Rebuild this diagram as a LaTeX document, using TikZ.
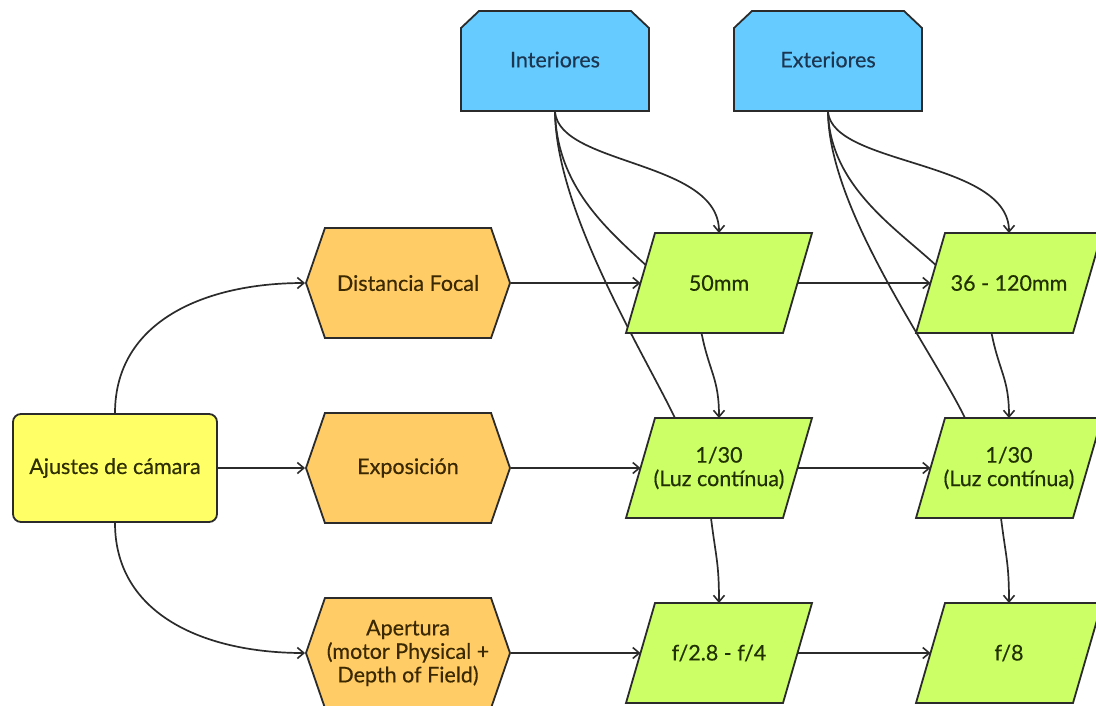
\documentclass[tikz,border=0pt]{standalone}
\usepackage{fontspec}
\setmainfont{Lato}[FakeBold=0.35]
\usetikzlibrary{shapes.geometric,shapes.symbols,arrows.meta,calc}
\definecolor{bluefill}{HTML}{66CCFF}
\definecolor{orangefill}{HTML}{FFCC66}
\definecolor{yellowfill}{HTML}{FFFF66}
\definecolor{greenfill}{HTML}{CCFF66}
\definecolor{linec}{HTML}{2B2B2B}
\definecolor{bluetext}{HTML}{1C3550}
\definecolor{greentext}{HTML}{203000}
\definecolor{orangetext}{HTML}{3A2800}
\definecolor{yellowtext}{HTML}{2E2E00}
\pgfdeclarelayer{bg}
\pgfdeclarelayer{mid}
\pgfsetlayers{bg,mid,main}
\begin{document}
\begin{tikzpicture}[x=1pt,y=-1pt,
  base/.style={line width=1.8pt, font=\fontsize{21.5}{23.5}\selectfont, align=center, inner sep=0pt},
  startbox/.style={base, draw=linec, rectangle, rounded corners=8pt, fill=yellowfill, text=yellowtext, minimum width=204pt, minimum height=108pt},
  hexbox/.style={base, draw=linec, signal, signal to=west and east, signal pointer angle=142, fill=orangefill, text=orangetext, minimum width=204pt, minimum height=110pt},
  envbox/.style={base, rectangle, text=bluetext, minimum width=188pt, minimum height=100pt},
  valbox/.style={base, rectangle, text=greentext, minimum width=186pt, minimum height=100pt},
  envshape/.style={draw=linec, line width=1.8pt, fill=bluefill, line join=miter},
  valshape/.style={draw=linec, line width=1.8pt, fill=greenfill, line join=miter},
  conn/.style={line width=1.7pt, draw=linec},
  arr/.style={conn, -{Straight Barb[length=6.5pt,width=11pt,line width=1.6pt]}}
]
\useasboundingbox (0,0) rectangle (1096,705);
\clip (0,0) rectangle (1096,705);

\node[startbox] (aj) at (115,468) {Ajustes de cámara};
\node[hexbox] (df) at (408,283) {Distancia Focal};
\node[hexbox] (ex) at (408,468) {Exposición};
\node[hexbox] (ap) at (408,653) {Apertura\\(motor Physical +\\Depth of Field)};
\node[envbox] (int) at (555,61) {\raisebox{3pt}{Interiores}};
\node[envbox] (ext) at (828,61) {\raisebox{3pt}{Exteriores}};
\node[valbox] (g1) at (719,283) {50mm};
\node[valbox] (g2) at (719,468) {1/30\\(Luz contínua)};
\node[valbox] (g3) at (719,653) {f/2.8 - f/4};
\node[valbox] (h1) at (1009,283) {36 - 120mm};
\node[valbox] (h2) at (1009,468) {1/30\\(Luz contínua)};
\node[valbox] (h3) at (1009,653) {f/8};

\begin{pgfonlayer}{mid}
\foreach \n in {int,ext}{
  \draw[envshape] ($(\n.center)+(-94,50)$) -- ($(\n.center)+(-94,-33)$) -- ($(\n.center)+(-76,-50)$)
    -- ($(\n.center)+(76,-50)$) -- ($(\n.center)+(94,-33)$) -- ($(\n.center)+(94,50)$) -- cycle;
}
\foreach \n in {g1,g2,g3,h1,h2,h3}{
  \draw[valshape] ($(\n.center)+(-93,50)$) -- ($(\n.center)+(64,50)$) -- ($(\n.center)+(93,-50)$)
    -- ($(\n.center)+(-64,-50)$) -- cycle;
}
\end{pgfonlayer}

\begin{pgfonlayer}{bg}
\foreach \n in {g1,g2,g3,h1,h2,h3}{
  \coordinate (\n l) at ($(\n.center)+(-78.5,0)$);
  \coordinate (\n r) at ($(\n.center)+(78.5,0)$);
  \coordinate (\n t) at ($(\n.center)+(0,-50)$);
  \coordinate (\n b1) at ($(\n.center)+(-17.5,50)$);
  \coordinate (\n b2) at ($(\n.center)+(-8,50)$);
  \coordinate (\n e) at ($(\n.center)+(-73.3,-18)$);
  \coordinate (\n t2) at ($(\n.center)+(-44,-50)$);
}
% from Ajustes
\draw[arr] (aj.north) .. controls +(0,-92) and +(-100,0) .. (df.west);
\draw[arr] (aj.east) -- (ex.west);
\draw[arr] (aj.south) .. controls +(0,92) and +(-100,0) .. (ap.west);
% hexagons to first column
\draw[arr] (df.east) -- (g1l);
\draw[arr] (ex.east) -- (g2l);
\draw[arr] (ap.east) -- (g3l);
% first column to second column
\draw[arr] (g1r) -- (h1l);
\draw[arr] (g2r) -- (h2l);
\draw[arr] (g3r) -- (h3l);
% vertical links
\draw[arr] (g1b1) .. controls +(8,40) and +(0,-40) .. (g2t);
\draw[arr] (g2b2) .. controls +(5,40) and +(0,-40) .. (g3t);
\draw[arr] (h1b1) .. controls +(8,40) and +(0,-40) .. (h2t);
\draw[arr] (h2b2) .. controls +(5,40) and +(0,-40) .. (h3t);
% Interiores
\draw[arr] (int.south) .. controls +(5,54) and +(0,-73) .. (g1t);
\draw[conn] (int.south) .. controls +(2,74) and +(-40,-37) .. (g1e);
\draw[conn] (int.south) .. controls +(1,99) and +(-33,-68) .. (g2t2);
% Exteriores
\draw[arr] (ext.south) .. controls +(5,54) and +(0,-73) .. (h1t);
\draw[conn] (ext.south) .. controls +(2,74) and +(-40,-37) .. (h1e);
\draw[conn] (ext.south) .. controls +(1,99) and +(-33,-68) .. (h2t2);
\end{pgfonlayer}
\end{tikzpicture}
\end{document}
